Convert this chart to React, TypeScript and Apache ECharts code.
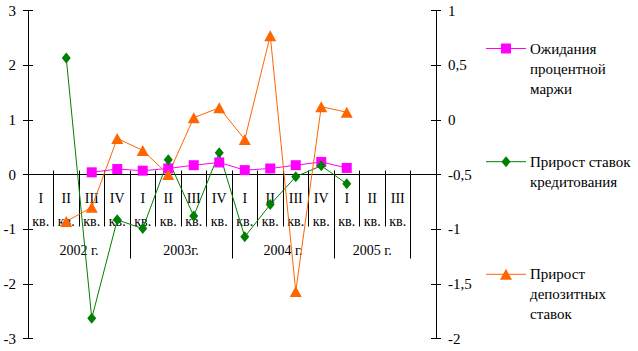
import React, { useEffect, useRef } from 'react';
import * as echarts from 'echarts';

const quarters = ['I', 'II', 'III', 'IV', 'I', 'II', 'III', 'IV', 'I', 'II', 'III', 'IV', 'I', 'II', 'III', ''];
const yearLabels = ['2002 г.', '2003г.', '2004 г.', '2005 г.'];
const yearCenters = [2, 6, 10, 13.5];
const yearBoundaries = [4, 8, 12, 15];
const seriesNames = ['Ожидания\nпроцентной\nмаржи', 'Прирост ставок\nкредитования', 'Прирост\nдепозитных\nставок'];
const marginExpect = [null, null, 0.04, 0.1, 0.07, 0.11, 0.17, 0.22, 0.08, 0.11, 0.17, 0.23, 0.12, null, null, null];
const lendingGrowth = [null, 2.13, -2.63, -0.83, -0.99, 0.27, -0.76, 0.4, -1.14, -0.55, -0.04, 0.16, -0.17, null, null, null];
const depositGrowth = [null, -0.93, -0.8, -0.17, -0.28, -0.5, 0.02, 0.11, -0.18, 0.77, -1.57, 0.12, 0.07, null, null, null];
const leftAxisRange = { min: -3, max: 3, interval: 1 };
const rightAxisRange = { min: -2, max: 1, interval: 0.5 };

const colors = ['#FF00FF', '#008000', '#FF6600'];
const FONT = 'Liberation Serif, Times New Roman, DejaVu Serif, serif';

export default function App() {
  const ref = useRef<HTMLDivElement>(null);
  useEffect(() => {
    if (!ref.current) return;
    const chart = echarts.init(ref.current, undefined, { renderer: 'svg' });
    const black = '#000';
    const PLOT_TOP = 10.5;
    const PLOT_BOTTOM = 12.5;
    const H = 351;
    // zero of left axis lies halfway between -3 and 3
    const zeroY = PLOT_TOP + (H - PLOT_TOP - PLOT_BOTTOM) * (leftAxisRange.max / (leftAxisRange.max - leftAxisRange.min));

    const baseY = (pos: 'left' | 'right', range: any, inside: boolean, labels: boolean) => ({
      type: 'value',
      gridIndex: 0,
      position: pos,
      min: range.min,
      max: range.max,
      interval: range.interval,
      axisLine: { show: true, onZero: false, lineStyle: { color: black, width: 1 } },
      axisTick: { show: true, inside, length: 5, lineStyle: { color: black, width: 1 } },
      splitLine: { show: false },
      axisLabel: labels
        ? {
            show: true,
            margin: 12,
            color: black,
            fontFamily: FONT,
            fontSize: 15,
            formatter: (v: number) => String(v).replace('.', ','),
          }
        : { show: false },
    });
    const catAxis = (grid: number, tick: any, label: any, lineShow: boolean, show = true) => ({
      type: 'category',
      gridIndex: grid,
      show,
      position: 'bottom',
      data: quarters,
      boundaryGap: true,
      axisLine: { show: lineShow, onZero: false, lineStyle: { color: black, width: 1 } },
      axisTick: tick,
      axisLabel: label,
      splitLine: { show: false },
    });
    const legendItems: any[] = [];
    const legendY = [48.5, 161.7, 274.3];
    seriesNames.forEach((name, i) => {
      const y = legendY[i];
      legendItems.push({
        type: 'line',
        shape: { x1: 486, y1: y, x2: 526, y2: y },
        style: { stroke: colors[i], lineWidth: 1 },
      });
      if (i === 0) {
        legendItems.push({ type: 'rect', shape: { x: 501, y: y - 5, width: 10, height: 10 }, style: { fill: colors[i] } });
      } else if (i === 1) {
        legendItems.push({
          type: 'polygon',
          shape: { points: [[506, y - 5.5], [510.5, y], [506, y + 5.5], [501.5, y]] },
          style: { fill: colors[i] },
        });
      } else {
        legendItems.push({
          type: 'polygon',
          shape: { points: [[506, y - 5.5], [512, y + 5.5], [500, y + 5.5]] },
          style: { fill: colors[i] },
        });
      }
      legendItems.push({
        type: 'text',
        x: 530,
        y: y - 10,
        style: {
          text: name,
          fill: black,
          fontFamily: FONT,
          fontSize: 15,
          lineHeight: 20,
          verticalAlign: 'top',
          align: 'left',
        },
      });
    });

    chart.setOption({
      animation: false,
      backgroundColor: '#fff',
      grid: [
        { left: 28, right: 202, top: PLOT_TOP, bottom: PLOT_BOTTOM, containLabel: false, outerBoundsMode: 'none' },
        { left: 28, right: 202, top: PLOT_TOP, bottom: H - zeroY, containLabel: false, outerBoundsMode: 'none' },
      ],
      xAxis: [
        // data axis for the series (hidden)
        catAxis(0, { show: false }, { show: false }, false, false),
        // quarter axis drawn on the zero line
        catAxis(
          1,
          { show: true, interval: 0, length: 52, lineStyle: { color: black, width: 1 } },
          {
            show: true,
            interval: 0,
            margin: 12,
            color: black,
            fontFamily: FONT,
            fontSize: 14,
            lineHeight: 23,
            formatter: (v: string) => (v ? `${v}\nкв.` : ''),
          },
          true
        ),
        catAxis(1, { show: true, interval: 0, inside: true, length: 4, lineStyle: { color: black, width: 1 } }, { show: false }, false),
        catAxis(
          1,
          {
            show: true,
            interval: (idx: number) => yearBoundaries.indexOf(idx) >= 0,
            length: 84,
            lineStyle: { color: black, width: 1 },
          },
          { show: false },
          false
        ),
        {
          type: 'value',
          gridIndex: 1,
          position: 'bottom',
          min: 0,
          max: quarters.length,
          interval: 0.5,
          axisLine: { show: false, onZero: false },
          axisTick: { show: false },
          splitLine: { show: false },
          axisLabel: {
            show: true,
            margin: 68,
            color: black,
            fontFamily: FONT,
            fontSize: 14,
            lineHeight: 16,
            showMinLabel: true,
            showMaxLabel: true,
            formatter: (v: number) => {
              const k = yearCenters.indexOf(v);
              return k >= 0 ? yearLabels[k] : '';
            },
          },
        },
      ],
      yAxis: [
        baseY('left', leftAxisRange, false, true),
        baseY('right', rightAxisRange, false, true),
        baseY('left', leftAxisRange, true, false),
        baseY('right', rightAxisRange, true, false),
        { type: 'value', gridIndex: 1, show: false, min: 0, max: 1, splitLine: { show: false } },
      ],
      graphic: legendItems,
      series: [
        {
          name: seriesNames[0],
          type: 'line',
          xAxisIndex: 0,
          yAxisIndex: 0,
          data: marginExpect,
          symbol: 'rect',
          symbolSize: [10, 10],
          showAllSymbol: true,
          connectNulls: false,
          lineStyle: { color: colors[0], width: 1 },
          itemStyle: { color: colors[0] },
        },
        {
          name: seriesNames[1],
          type: 'line',
          xAxisIndex: 0,
          yAxisIndex: 0,
          data: lendingGrowth,
          symbol: 'diamond',
          symbolSize: [9, 11],
          showAllSymbol: true,
          connectNulls: false,
          lineStyle: { color: colors[1], width: 1 },
          itemStyle: { color: colors[1] },
        },
        {
          name: seriesNames[2],
          type: 'line',
          xAxisIndex: 0,
          yAxisIndex: 1,
          data: depositGrowth,
          symbol: 'triangle',
          symbolSize: [12, 11],
          showAllSymbol: true,
          connectNulls: false,
          lineStyle: { color: colors[2], width: 1 },
          itemStyle: { color: colors[2] },
        },
      ],
    });
    return () => chart.dispose();
  }, []);
  return (
    <div
      ref={ref}
      style={{ position: 'absolute', left: 0, top: 0, width: 638, height: 351, background: '#fff' }}
    />
  );
}
